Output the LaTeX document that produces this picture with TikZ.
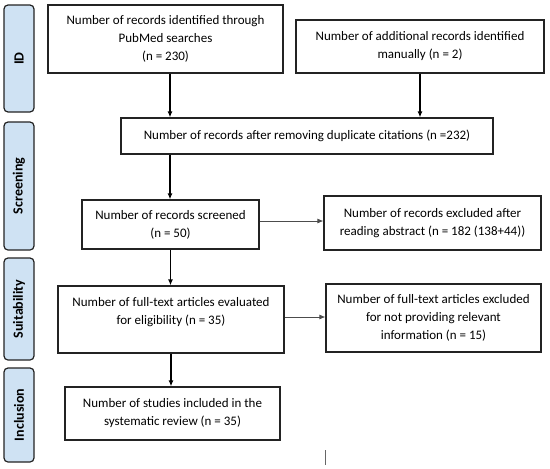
\documentclass[tikz,border=0pt]{standalone}
\usepackage{fontspec}
\setmainfont{Carlito}
\usetikzlibrary{arrows.meta}

\definecolor{stagefill}{RGB}{207,226,243}
\definecolor{boxline}{RGB}{35,35,35}

\tikzset{
  box/.style={draw=boxline, line width=1.2pt, align=center, inner sep=2pt,
    font=\fontsize{13}{18}\selectfont},
  stage/.style={draw=boxline, fill=stagefill, line width=1.2pt, rounded corners=4pt,
    rotate=90, minimum height=30pt, inner sep=0pt, font=\bfseries\fontsize{14}{16}\selectfont},
  down/.style={line width=1.3pt, -{Latex[length=6pt,width=5pt]}},
  side/.style={draw=black!70, line width=0.8pt, -{Latex[length=6pt,width=5pt]}},
}

\begin{document}
\begin{tikzpicture}[x=1pt,y=-1pt]
\useasboundingbox (0,0) rectangle (550,469);
% stages
\node[stage, minimum width=107pt] (id) at (19,58.5) {ID};
\node[stage, minimum width=128pt] (scr) at (19,186) {Screening};
\node[stage, minimum width=102pt] (suit) at (19,309) {Suitability};
\node[stage, minimum width=94pt] (incl) at (19,415) {Inclusion};
% boxes
\node[box, minimum width=235pt, minimum height=68pt] (pub) at (165.5,39)
  {Number of records identified through\\PubMed searches\\(n = 230)};
\node[box, minimum width=248pt, minimum height=53pt] (man) at (420,46.5)
  {Number of additional records identified\\manually (n = 2)};
\node[box, minimum width=372pt, minimum height=36pt] (dup) at (307,136)
  {Number of records after removing duplicate citations (n =232)};
\node[box, minimum width=177pt, minimum height=49pt] (scrn) at (170.5,224.5)
  {Number of records screened\\(n = 50)};
\node[box, minimum width=217pt, minimum height=54pt] (exab) at (432.5,223)
  {Number of records excluded after\\reading abstract (n = 182 (138+44))};
\node[box, minimum width=226pt, minimum height=67pt] (full) at (171,319.5)
  {Number of full-text articles evaluated\\for eligibility (n = 35)\\\mbox{}};
\node[box, minimum width=215pt, minimum height=68pt] (exft) at (433.5,318)
  {Number of full-text articles excluded\\for not providing relevant\\information (n = 15)};
\node[box, minimum width=215pt, minimum height=53pt] (inc) at (172.5,413.5)
  {Number of studies included in the\\systematic review (n = 35)};
% arrows
\draw[down] ([xshift=4.5pt]pub.south) -- ([xshift=4.5pt]pub.south |- dup.north);
\draw[down] (man.south) -- (man.south |- dup.north);
\draw[down] ([xshift=-137pt]dup.south) -- ([xshift=-137pt]dup.south |- scrn.north);
\draw[down] (scrn.south) -- (scrn.south |- full.north);
\draw[down] (full.south) -- (full.south |- inc.north);
\draw[side] ([yshift=3.5pt]scrn.east) -- ([yshift=3.5pt]scrn.east -| exab.west);
\draw[side] ([yshift=2.5pt]full.east) -- ([yshift=2.5pt]full.east -| exft.west);
% stray mark
\draw[black!60, line width=0.8pt] (325,450) -- (325,465);
\end{tikzpicture}
\end{document}
